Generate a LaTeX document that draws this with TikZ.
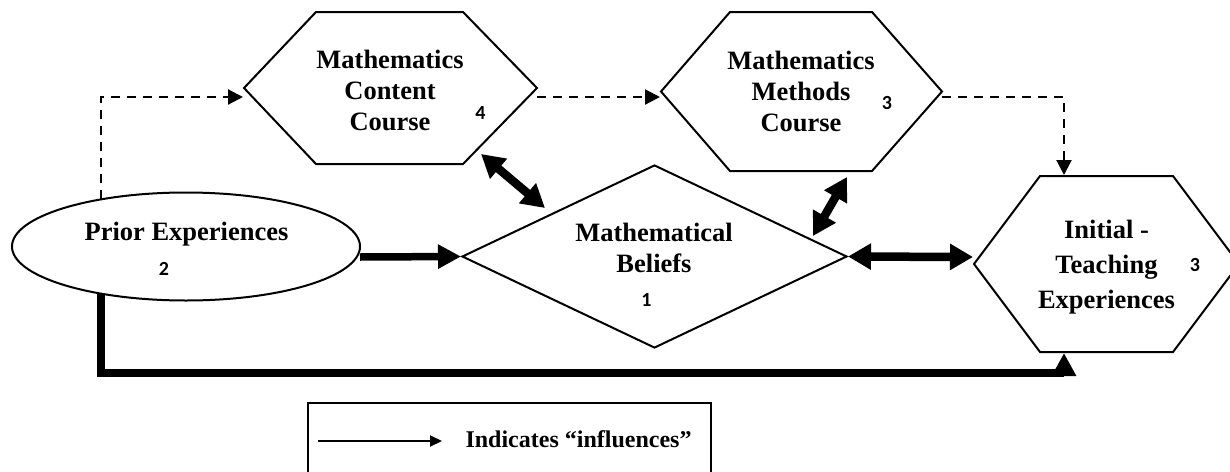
\documentclass[tikz,border=0pt]{standalone}
\usepackage{fontspec}
\setmainfont{Liberation Serif}
\newfontfamily\digitfont{Carlito}
\usetikzlibrary{arrows.meta,shapes.geometric}

\begin{document}
\begin{tikzpicture}[x=1pt,y=-1pt,
  shapeline/.style={draw, line width=2pt, line join=miter},
  txt/.style={font=\fontsize{26.5}{31}\selectfont\bfseries, align=center, inner sep=0pt},
  numtag/.style={font=\digitfont\fontsize{20}{22}\selectfont\bfseries, inner sep=0pt},
  dashedflow/.style={line width=2.2pt, dash pattern=on 9pt off 7pt,
    -{Triangle[length=15pt,width=15pt]}},
  strongflow/.style={line width=7.5pt, line join=miter,
    -{Triangle[length=23pt,width=23pt]}},
  mutual/.style={line width=8.5pt,
    {Triangle[length=23pt,width=25pt]}-{Triangle[length=23pt,width=25pt]}},
]
\useasboundingbox (0,0) rectangle (1230,471);
\fill[white] (0,0) rectangle (1230,471);
\clip (0,0) rectangle (1230,471);

% ---- shapes ----
\node[shapeline, ellipse, minimum width=348pt, minimum height=108pt, inner sep=0pt]
  (prior) at (186,246.5) {};
\node[shapeline, diamond, minimum width=385pt, minimum height=183pt, inner sep=0pt]
  (belief) at (654.5,256.5) {};

% content course hexagon
\draw[shapeline] (244,88) coordinate (cc-w) -- (316,12) -- (463,12)
  -- (537,88) coordinate (cc-e) -- (463,164) -- (316,164) -- cycle;
% methods course hexagon
\draw[shapeline] (661,91.5) coordinate (mc-w) -- (730,12) -- (872,12)
  -- (942,91.5) coordinate (mc-e) -- (872,171) -- (730,171) -- cycle;
% initial teaching hexagon
\draw[shapeline] (974,264) coordinate (it-w) -- (1040,176) -- (1173,176)
  -- (1239,264) coordinate (it-e) -- (1173,352) -- (1040,352) -- cycle;

% ---- texts ----
\node[txt] (content) at (390,90) {Mathematics\\Content\\Course};
\node[txt] (methods) at (801,91) {Mathematics\\Methods\\Course};
\node[txt] (beliefs) at (654,247.5) {Mathematical\\Beliefs};
\node[txt, anchor=base] (priortext) at (186.5,240) {Prior Experiences};
\node[txt] (teaching) at (1106.5,267) {Initial -\\[4pt]Teaching\\[4pt]Experiences};

\node[numtag] (n4) at (480.5,113) {4};
\node[numtag] (n3a) at (887,103) {3};
\node[numtag] (n3b) at (1195,265) {3};
\node[numtag] (n2) at (164,269) {2};
\node[numtag] (n1) at (646.5,300) {1};

% ---- connector ends ----
\coordinate (d1a) at (100.7,199);
\coordinate (d1b) at (243,97);
\coordinate (d2a) at (537,97);
\coordinate (d2b) at (660,97);
\coordinate (d3a) at (942,97);
\coordinate (d3b) at (1064,175);
\coordinate (s1a) at (360,257);
\coordinate (s2a) at (101,294);
\coordinate (s2b) at (1064,353);
\coordinate (m1a) at (481,154);
\coordinate (m1b) at (545,208);
\coordinate (m2a) at (847,177);
\coordinate (m2b) at (813,236);
\coordinate (m3b) at (973,257);

% ---- connectors ----
\draw[dashedflow] (d1a) |- (d1b);
\draw[dashedflow] (d2a) -- (d2b);
\draw[dashedflow] (d3a) -| (d3b);

\draw[strongflow] (s1a) -- (belief.west);
\draw[strongflow] (s2a) |- (1064,373) -- (s2b);

\draw[mutual] (m1a) -- (m1b);
\draw[mutual] (m2a) -- (m2b);
\draw[mutual] (belief.east) -- (m3b);

% ---- legend ----
\node[draw, line width=1.5pt, minimum width=403pt, minimum height=80pt,
  anchor=north west, inner sep=0pt] (legend) at (307,402) {};
\coordinate (la) at (318,441);
\coordinate (lb) at (442,441);
\draw[line width=2pt, -{Triangle[length=12pt,width=11pt]}] (la) -- (lb);
\node[font=\fontsize{24}{28}\selectfont\bfseries, anchor=base, inner sep=0pt]
  (legendtext) at (578.5,447) {Indicates ``influences''};
\end{tikzpicture}
\end{document}
